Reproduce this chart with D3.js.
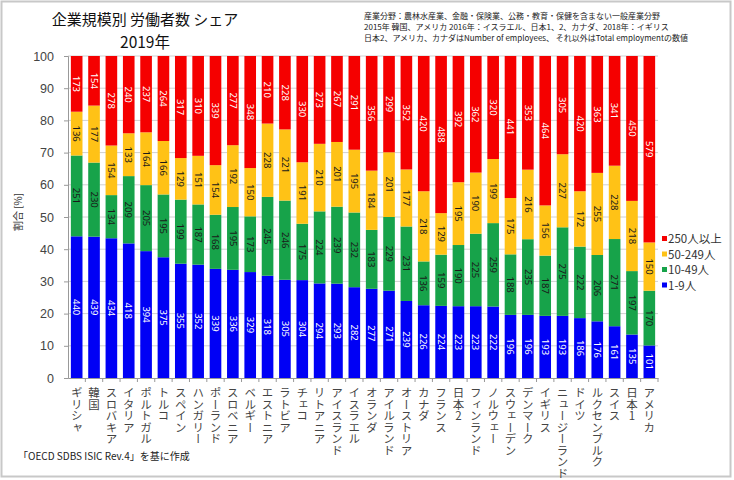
<!DOCTYPE html>
<html><head><meta charset="utf-8">
<script src="https://cdn.jsdelivr.net/npm/d3@7"></script>
<style>
body{margin:0;background:#fff;}
svg text{font-family:"Noto Sans CJK JP","Noto Sans",sans-serif;}
</style></head>
<body>
<svg id="c" width="734" height="480"></svg>
<script>
const countries = ["ギリシャ","韓国","スロバキア","イタリア","ポルトガル","トルコ","スペイン","ハンガリー","ポーランド","スロベニア","ベルギー","エストニア","ラトビア","チェコ","リトアニア","アイスランド","イスラエル","オランダ","アイルランド","オーストリア","カナダ","フランス","日本2","フィンランド","ノルウェー","スウェーデン","デンマーク","イギリス","ニュージーランド","ドイツ","ルクセンブルク","スイス","日本1","アメリカ"];
const s1_9     = [440,439,434,418,394,375,355,352,339,336,329,318,305,304,294,293,282,277,271,239,226,224,223,223,222,196,196,193,193,186,176,161,135,101];
const s10_49   = [251,230,134,209,205,195,199,187,168,195,173,245,246,175,224,239,232,183,229,231,136,159,190,225,259,188,235,187,275,222,206,271,197,170];
const s50_249  = [136,177,154,133,164,166,129,151,154,192,150,228,221,191,210,201,195,184,201,177,218,129,195,190,199,175,216,156,227,172,255,228,218,150];
const s250     = [173,154,278,240,237,264,317,310,339,277,348,210,228,330,273,267,291,356,299,352,420,488,392,362,320,441,353,464,305,420,363,341,450,579];
const seriesNames = ["1-9人","10-49人","50-249人","250人以上"];
const seriesColors = ["#0000f5","#17a34a","#ffc216","#f50000"];
const labelColors = ["#ffffff","#1a1a1a","#1a1a1a","#ffffff"];
const yTicks = [0,10,20,30,40,50,60,70,80,90,100];

const svg = d3.select("#c");
svg.append("rect").attr("x",1.5).attr("y",1.5).attr("width",729).attr("height",475)
  .attr("fill","#fff").attr("stroke","#c8c8c8").attr("stroke-width",2);

const x = d3.scaleBand().domain(countries).range([68,658]).paddingInner(0.33).paddingOuter(0.165);
const y = d3.scaleLinear().domain([0,100]).range([378,56]);

// grid
svg.append("g").selectAll("line").data(yTicks.filter(d=>d>0)).join("line")
  .attr("x1",68).attr("x2",658).attr("y1",d=>y(d)).attr("y2",d=>y(d))
  .attr("stroke","#d0d0d0").attr("stroke-width",1);

const rows = countries.map((c,i)=>({c, v:[s1_9[i],s10_49[i],s50_249[i],s250[i]]}));
const g = svg.append("g");
rows.forEach(r=>{
  const tot = d3.sum(r.v);
  let acc = 0;
  r.v.forEach((v,k)=>{
    const y0 = acc/tot*100, y1 = (acc+v)/tot*100; acc += v;
    g.append("rect").attr("x",x(r.c)).attr("width",x.bandwidth())
      .attr("y",y(y1)).attr("height",y(y0)-y(y1)).attr("fill",seriesColors[k]);
    const cx = x(r.c)+x.bandwidth()/2, cy = (y(y0)+y(y1))/2;
    g.append("text").attr("transform",`translate(${cx},${cy}) rotate(90)`)
      .attr("text-anchor","middle").attr("dy","0.35em")
      .attr("font-size",9.5).attr("fill",labelColors[k])
      .style("font-family","'Noto Sans',sans-serif").text(v);
  });
});

// y axis
const ya = d3.axisLeft(y).tickValues(yTicks).tickSize(4).tickPadding(10);
const yg = svg.append("g").attr("transform","translate(68,0)").call(ya);
yg.select(".domain").attr("stroke","#999");
yg.selectAll(".tick line").attr("stroke","#999");
yg.selectAll("text").attr("font-size",12.5).attr("fill","#444")
  .style("font-family","'Liberation Sans',sans-serif");

// x axis
const xa = d3.axisBottom(x).tickSize(0).tickFormat("");
const xg = svg.append("g").attr("transform","translate(0,378)").call(xa);
xg.select(".domain").attr("stroke","#999");
svg.append("g").selectAll("line").data(countries).join("line")
  .attr("x1",d=>x(d)+x.bandwidth()+x.step()*x.paddingInner()/2)
  .attr("x2",d=>x(d)+x.bandwidth()+x.step()*x.paddingInner()/2)
  .attr("y1",378).attr("y2",382).attr("stroke","#999");
svg.append("g").selectAll("text").data(countries).join("text")
  .attr("x",d=>x(d)+x.bandwidth()/2).attr("y",387)
  .attr("font-size",11.5).attr("fill","#444")
  .style("writing-mode","vertical-rl").style("text-orientation","upright")
  .text(d=>d);

// y label
svg.append("text").attr("transform","translate(22,212) rotate(-90)")
  .attr("text-anchor","middle").attr("font-size",10).attr("fill","#333").text("割合 [%]");

// legend
const lg = svg.append("g");
[3,2,1,0].forEach((k,i)=>{
  lg.append("rect").attr("x",662).attr("y",236+i*15.5).attr("width",5).attr("height",5).attr("fill",seriesColors[k]);
  lg.append("text").attr("x",668).attr("y",243+i*15.5).attr("font-size",11.5).attr("fill","#333").text(seriesNames[k]);
});

// title
svg.append("text").attr("x",145).attr("y",25).attr("text-anchor","middle").attr("font-size",15).attr("fill","#111").text("企業規模別 労働者数 シェア");
svg.append("text").attr("x",145).attr("y",48).attr("text-anchor","middle").attr("font-size",15.5).attr("fill","#111").text("2019年");

// notes
const notes = ["産業分野：農林水産業、金融・保険業、公務・教育・保健を含まない一般産業分野",
 "2015年 韓国、アメリカ 2016年：イスラエル、日本1、2、カナダ、2018年：イギリス",
 "日本2、アメリカ、カナダはNumber of employees、 それ以外はTotal employmentの数値"];
svg.append("g").selectAll("text").data(notes).join("text")
  .attr("x",364).attr("y",(d,i)=>19+i*11).attr("font-size",8).attr("fill","#222").text(d=>d);

svg.append("text").attr("x",18).attr("y",460).attr("font-size",10).attr("fill","#222").text("「OECD SDBS ISIC Rev.4」を基に作成");
</script>
</body></html>
